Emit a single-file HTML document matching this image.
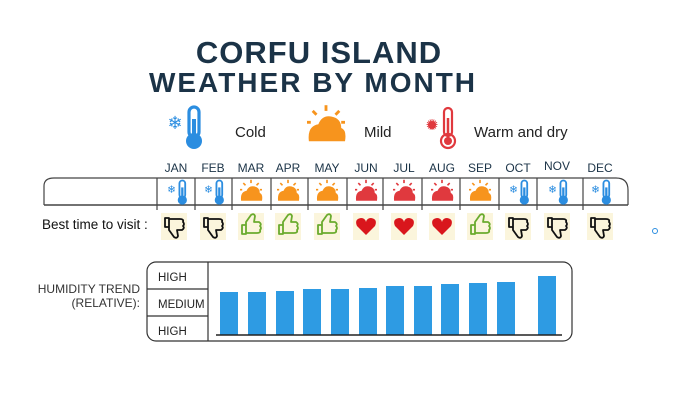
<!DOCTYPE html>
<html><head><meta charset="utf-8"><style>
body{margin:0;background:#fff;width:700px;height:403px;overflow:hidden;font-family:"Liberation Sans",sans-serif;}
</style></head><body>
<svg width="700" height="403" viewBox="0 0 700 403" xmlns="http://www.w3.org/2000/svg">
<defs>
<g id="cold">
 <rect x="3" y="-10" width="5" height="15" rx="2.5" fill="none" stroke="#2b8de0" stroke-width="1.6"/>
 <circle cx="5.5" cy="7" r="4" fill="#2b8de0"/>
 <line x1="5.5" y1="-4" x2="5.5" y2="6" stroke="#2b8de0" stroke-width="2"/>
 <text x="-4" y="1" font-size="9" fill="#2b8de0" text-anchor="middle">❄</text>
</g>
<g id="mild">
 <path d="M-9 7 Q-10 -1 -4 -2 Q-2 -7 3 -6 Q8 -5 8 0 Q11 1 10 7 Z" fill="#f7941d"/>
 <line x1="0" y1="-12" x2="0" y2="-9" stroke="#f7941d" stroke-width="1.5"/>
 <line x1="-7" y1="-9" x2="-5" y2="-7" stroke="#f7941d" stroke-width="1.5"/>
 <line x1="7" y1="-9" x2="5" y2="-7" stroke="#f7941d" stroke-width="1.5"/>
 <line x1="-10" y1="-3" x2="-8" y2="-3" stroke="#f7941d" stroke-width="1.5"/>
 <line x1="10" y1="-3" x2="8" y2="-3" stroke="#f7941d" stroke-width="1.5"/>
</g>
<g id="warm">
 <path d="M-9 7 Q-10 -1 -4 -2 Q-2 -7 3 -6 Q8 -5 8 0 Q11 1 10 7 Z" fill="#e0393e"/>
 <line x1="0" y1="-12" x2="0" y2="-9" stroke="#e0393e" stroke-width="1.5"/>
 <line x1="-7" y1="-9" x2="-5" y2="-7" stroke="#e0393e" stroke-width="1.5"/>
 <line x1="7" y1="-9" x2="5" y2="-7" stroke="#e0393e" stroke-width="1.5"/>
 <line x1="-10" y1="-3" x2="-8" y2="-3" stroke="#e0393e" stroke-width="1.5"/>
 <line x1="10" y1="-3" x2="8" y2="-3" stroke="#e0393e" stroke-width="1.5"/>
</g>
<g id="down">
 <rect x="-13" y="-13" width="26" height="27" fill="#fbf5dc"/>
 <path d="M-9 -8 h4 v9 h-4 Z M-5 -7 h11 q4 0 3 3 q2 2 0 4 q2 2 -1 4 h-5 l1 6 q-1 3 -4 1 l-5 -7 Z" fill="none" stroke="#111" stroke-width="1.8" stroke-linejoin="round"/>
</g>
<g id="up">
 <rect x="-13" y="-13" width="26" height="27" fill="#fbf5dc"/>
 <path d="M-9 8 h4 v-9 h-4 Z M-5 7 h11 q4 0 3 -3 q2 -2 0 -4 q2 -2 -1 -4 h-5 l1 -6 q-1 -3 -4 -1 l-5 7 Z" fill="none" stroke="#6aab2e" stroke-width="1.8" stroke-linejoin="round"/>
</g>
<g id="heart">
 <rect x="-13" y="-13" width="26" height="27" fill="#fbf5dc"/>
 <path d="M0 9 L-9 0 Q-12 -7 -5 -8 Q-1 -8 0 -4 Q1 -8 5 -8 Q12 -7 9 0 Z" fill="#d9161c"/>
</g>
</defs>

<text x="319" y="63" font-size="31" font-weight="bold" fill="#1b3347" text-anchor="middle" letter-spacing="1">CORFU ISLAND</text>
<text x="313" y="92" font-size="28" font-weight="bold" fill="#1b3347" text-anchor="middle" letter-spacing="2">WEATHER BY MONTH</text>

<g transform="translate(183,127) scale(2)"><use href="#cold"/></g>
<text x="235" y="137" font-size="15" fill="#222">Cold</text>
<g transform="translate(326,128) scale(1.9)"><use href="#mild"/></g>
<text x="364" y="137" font-size="15" fill="#222">Mild</text>
<g transform="translate(440,128)">
 <circle cx="-8" cy="-3" r="4" fill="#e0393e"/>
 <text x="-8" y="2" font-size="15" fill="#e0393e" text-anchor="middle">✺</text>
 <rect x="4" y="-20" width="8" height="28" rx="4" fill="none" stroke="#e0393e" stroke-width="2.2"/>
 <circle cx="8" cy="13" r="7" fill="none" stroke="#e0393e" stroke-width="2.2"/>
 <circle cx="8" cy="13" r="4" fill="#e0393e"/>
 <line x1="8" y1="-10" x2="8" y2="10" stroke="#e0393e" stroke-width="2.5"/>
</g>
<text x="474" y="137" font-size="15" fill="#222">Warm and dry</text>

<g font-size="12" fill="#1b3347" text-anchor="middle">
<text x="176" y="172">JAN</text><text x="213" y="172">FEB</text><text x="251" y="172">MAR</text>
<text x="288" y="172">APR</text><text x="327" y="172">MAY</text><text x="366" y="172">JUN</text>
<text x="404" y="172">JUL</text><text x="442" y="172">AUG</text><text x="480" y="172">SEP</text>
<text x="518" y="172">OCT</text><text x="557" y="170">NOV</text><text x="600" y="172">DEC</text>
</g>

<path d="M44 205 V186 Q44 178 54 178 H616 Q628 178 628 190 V205" fill="none" stroke="#444" stroke-width="1.2"/>
<line x1="44" y1="205" x2="628" y2="205" stroke="#444" stroke-width="1.5"/>
<g stroke="#444" stroke-width="1.2">
<line x1="157" y1="178" x2="157" y2="210"/><line x1="195" y1="178" x2="195" y2="210"/>
<line x1="232" y1="178" x2="232" y2="210"/><line x1="271" y1="178" x2="271" y2="210"/>
<line x1="308" y1="178" x2="308" y2="210"/><line x1="347" y1="178" x2="347" y2="210"/>
<line x1="383" y1="178" x2="383" y2="210"/><line x1="422" y1="178" x2="422" y2="210"/>
<line x1="460" y1="178" x2="460" y2="210"/><line x1="499" y1="178" x2="499" y2="210"/>
<line x1="537" y1="178" x2="537" y2="210"/><line x1="583" y1="178" x2="583" y2="210"/>
</g>
<use href="#cold" transform="translate(176,192) scale(1.15)"/>
<use href="#cold" transform="translate(213,192) scale(1.15)"/>
<use href="#mild" transform="translate(251,193) scale(1.1)"/>
<use href="#mild" transform="translate(288,193) scale(1.1)"/>
<use href="#mild" transform="translate(327,193) scale(1.1)"/>
<use href="#warm" transform="translate(366,193) scale(1.1)"/>
<use href="#warm" transform="translate(404,193) scale(1.1)"/>
<use href="#warm" transform="translate(442,193) scale(1.1)"/>
<use href="#mild" transform="translate(480,193) scale(1.1)"/>
<use href="#cold" transform="translate(518,192) scale(1.15)"/>
<use href="#cold" transform="translate(557,192) scale(1.15)"/>
<use href="#cold" transform="translate(600,192) scale(1.15)"/>

<text x="42" y="229" font-size="13.5" fill="#111">Best time to visit :</text>
<use href="#down" transform="translate(174,226)"/>
<use href="#down" transform="translate(213,226)"/>
<use href="#up" transform="translate(251,226)"/>
<use href="#up" transform="translate(288,226)"/>
<use href="#up" transform="translate(327,226)"/>
<use href="#heart" transform="translate(366,226)"/>
<use href="#heart" transform="translate(404,226)"/>
<use href="#heart" transform="translate(442,226)"/>
<use href="#up" transform="translate(480,226)"/>
<use href="#down" transform="translate(518,226)"/>
<use href="#down" transform="translate(557,226)"/>
<use href="#down" transform="translate(600,226)"/>

<circle cx="655" cy="231" r="2.5" fill="none" stroke="#2b8de0" stroke-width="1"/>

<text x="140" y="293" font-size="12" fill="#333" text-anchor="end">HUMIDITY TREND</text>
<text x="140" y="307" font-size="12" fill="#333" text-anchor="end">(RELATIVE):</text>
<rect x="147" y="262" width="425" height="79" rx="9" fill="none" stroke="#333" stroke-width="1.2"/>
<line x1="208" y1="262" x2="208" y2="341" stroke="#333" stroke-width="1.2"/>
<line x1="147" y1="289" x2="208" y2="289" stroke="#333" stroke-width="1.2"/>
<line x1="147" y1="316" x2="208" y2="316" stroke="#333" stroke-width="1.2"/>
<g font-size="11.5" fill="#222">
<text x="158" y="281">HIGH</text><text x="158" y="308">MEDIUM</text><text x="158" y="335">HIGH</text>
</g>
<g fill="#2e9be3">
<rect x="220" y="292" width="18" height="43"/>
<rect x="248" y="292" width="18" height="43"/>
<rect x="276" y="291" width="18" height="44"/>
<rect x="303" y="289" width="18" height="46"/>
<rect x="331" y="289" width="18" height="46"/>
<rect x="359" y="288" width="18" height="47"/>
<rect x="386" y="286" width="18" height="49"/>
<rect x="414" y="286" width="18" height="49"/>
<rect x="441" y="284" width="18" height="51"/>
<rect x="469" y="283" width="18" height="52"/>
<rect x="497" y="282" width="18" height="53"/>
<rect x="538" y="276" width="18" height="59"/>
</g>
<line x1="216" y1="335" x2="562" y2="335" stroke="#222" stroke-width="1.5"/>
</svg>
</body></html>
